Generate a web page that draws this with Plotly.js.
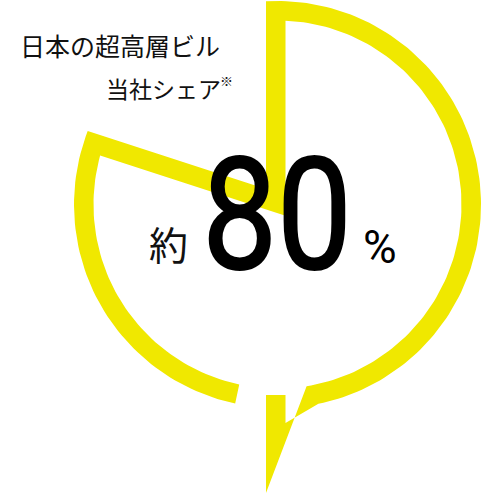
<!DOCTYPE html>
<html>
<head>
<meta charset="utf-8">
<script src="https://cdn.plot.ly/plotly-3.0.1.min.js"></script>
<style>html,body{margin:0;padding:0;background:#fff;}#chart{width:485px;height:495px;}</style>
</head>
<body>
<div id="chart"></div>
<script>
// ---- data ----
const SHARE = [80];                         // percent share
const TITLE_LINES = ['日本の超高層ビル', '当社シェア'];
const FOOTNOTE_MARK = ['※'];
const VALUE_PREFIX = ['約'];
const VALUE_SUFFIX = ['%'];

// ---- geometry / style (plot units = pixels) ----
const YELLOW = '#f0e800';
const C = {x: 277.5, y: 204.5};   // arc centre
const R = 203.5;                  // outer radius
const W = 19.5;                   // band width
const A = {x: 266, y: 189};       // wedge apex
const START = 0;                  // degrees clockwise from up
const TAIL = {attachOuter: 168.4, attachInner: 170.9, cut: 192, armTop: 395, armBottom: 423, tipY: 493};

const rad = d => d * Math.PI / 180;
function onCircle(theta, r) {
  return [C.x + r * Math.sin(rad(theta)), C.y - r * Math.cos(rad(theta))];
}
function rayCircle(P, phi, r) {
  const d = [Math.sin(rad(phi)), -Math.cos(rad(phi))];
  const f = [P.x - C.x, P.y - C.y];
  const b = d[0] * f[0] + d[1] * f[1];
  const c = f[0] * f[0] + f[1] * f[1] - r * r;
  const t = -b + Math.sqrt(b * b - c);
  return [P.x + t * d[0], P.y + t * d[1]];
}
function angleOf(Q) {
  return Math.atan2(Q[0] - C.x, -(Q[1] - C.y)) * 180 / Math.PI;
}
function arc(r, t0, t1, n) {
  const pts = [];
  for (let i = 0; i <= n; i++) pts.push(onCircle(t0 + (t1 - t0) * i / n, r));
  return pts;
}

const sweep = SHARE[0] / 100 * 360;
const END = START + sweep;

// inner apex: intersection of the two edges offset inward by W
const d0 = [Math.sin(rad(START)), -Math.cos(rad(START))];
const n0 = [Math.cos(rad(START)), Math.sin(rad(START))];
const d1 = [Math.sin(rad(END)), -Math.cos(rad(END))];
const n1 = [-Math.cos(rad(END)), -Math.sin(rad(END))];
const P0 = [A.x + W * n0[0], A.y + W * n0[1]];
const P1 = [A.x + W * n1[0], A.y + W * n1[1]];
const det = d0[0] * (-d1[1]) - d0[1] * (-d1[0]);
const rx = P1[0] - P0[0], ry = P1[1] - P0[1];
const s = (rx * (-d1[1]) - ry * (-d1[0])) / det;
const Ai = {x: P0[0] + s * d0[0], y: P0[1] + s * d0[1]};

const So = rayCircle(A, START, R), Eo = rayCircle(A, END, R);
const Si = rayCircle(Ai, START, R - W), Ei = rayCircle(Ai, END, R - W);
let tSo = angleOf(So), tEo = angleOf(Eo), tSi = angleOf(Si), tEi = angleOf(Ei);
if (tEo < 0) tEo += 360;
if (tEi < 0) tEi += 360;

let pts = [];
pts = pts.concat(arc(R, TAIL.cut, tEo, 60));
pts.push([A.x, A.y]);
pts = pts.concat(arc(R, tSo, TAIL.attachOuter, 120));
pts.push([A.x + W, TAIL.armBottom]);
pts.push([A.x + W, TAIL.armTop]);
pts.push([A.x, TAIL.armTop]);
pts.push([A.x, TAIL.tipY]);
pts = pts.concat(arc(R - W, TAIL.attachInner, tSi, 120));
pts.push([Ai.x, Ai.y]);
pts = pts.concat(arc(R - W, tEi, TAIL.cut, 60));
pts.push(pts[0]);

const trace = {
  type: 'scatter', mode: 'lines',
  x: pts.map(p => p[0]), y: pts.map(p => p[1]),
  fill: 'toself', fillcolor: YELLOW,
  line: {width: 0, color: YELLOW},
  hoverinfo: 'skip', showlegend: false
};

const JP = '"Noto Sans CJK JP", "Noto Sans", sans-serif';
const NUM = 'Roboto, "DejaVu Sans", sans-serif';
const ink = '#111111';
const VALUE_TEXT = String(SHARE[0]);
const annotations = [
  {text: TITLE_LINES[0], x: 18, y: 45, font: {family: JP, size: 25, color: ink}},
  {text: TITLE_LINES[1], x: 104, y: 88, font: {family: JP, size: 23, color: ink}},
  {text: FOOTNOTE_MARK[0], x: 218, y: 80, font: {family: JP, size: 13, color: ink}},
  {text: VALUE_PREFIX[0], x: 147, y: 243, font: {family: JP, size: 39, color: ink}},
  {text: VALUE_TEXT, x: 277, y: 215, xanchor: 'center', font: {family: NUM, size: 155, color: '#000'}},
  {text: VALUE_SUFFIX[0], x: 380, y: 247, xanchor: 'center', font: {family: NUM, size: 46, color: '#000'}}
].map(a => Object.assign({xref: 'x', yref: 'y', xanchor: 'left', yanchor: 'middle', showarrow: false}, a));

const layout = {
  width: 485, height: 495,
  margin: {l: 0, r: 0, t: 0, b: 0},
  paper_bgcolor: '#ffffff', plot_bgcolor: '#ffffff',
  xaxis: {range: [0, 485], visible: false, fixedrange: true},
  yaxis: {range: [495, 0], visible: false, fixedrange: true},
  showlegend: false,
  annotations: annotations
};

Plotly.newPlot('chart', [trace], layout, {displayModeBar: false, staticPlot: true}).then(gd => {
  // the big figure uses a condensed, slightly heavier face in the reference
  gd.querySelectorAll('.annotation-text').forEach(t => {
    if (t.textContent === VALUE_TEXT) {
      const bb = t.getBBox();
      const cx = bb.x + bb.width / 2;
      t.setAttribute('transform', `translate(${cx},0) scale(0.86,1) translate(${-cx},0)`);
      t.style.stroke = '#000';
      t.style.strokeWidth = '2px';
    }
  });
});
</script>
</body>
</html>
